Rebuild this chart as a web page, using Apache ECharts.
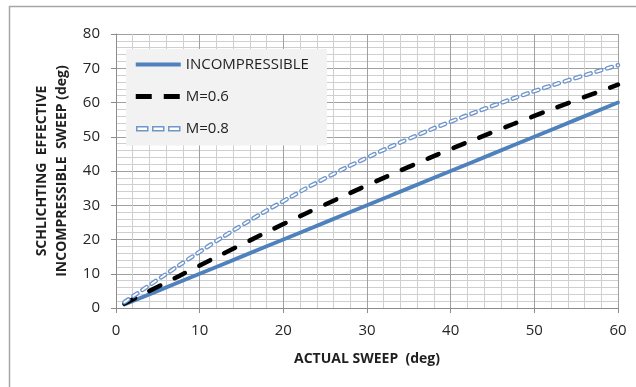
<!DOCTYPE html>
<html>
<head>
<meta charset="utf-8">
<script src="https://cdn.jsdelivr.net/npm/echarts@6/dist/echarts.min.js"></script>
<style>
  html, body { margin: 0; padding: 0; background: #ffffff; }
  #chart { width: 636px; height: 387px; }
</style>
</head>
<body>
<div id="chart"></div>
<script>
// Actual sweep angle (deg)
const actualSweep = [1, 5, 10, 15, 20, 25, 30, 35, 40, 45, 50, 55, 60];
// Schlichting effective incompressible sweep (deg)
const incompressible = [1, 5, 10, 15, 20, 25, 30, 35, 40, 45, 50, 55, 60];
const mach06 = [1.3, 6.2, 12.4, 18.5, 24.5, 30.2, 35.8, 41.2, 46.4, 51.3, 56.1, 60.7, 65.2];
const mach08 = [1.7, 8.3, 16.4, 24.1, 31.2, 37.9, 43.9, 49.4, 54.4, 59.0, 63.3, 67.2, 70.9];

const seriesNames = ['INCOMPRESSIBLE', 'M=0.6', 'M=0.8'];
const xTicks = { min: 0, max: 60, interval: 10 };
const yTicks = { min: 0, max: 80, interval: 10 };

const pairs = (ys) => actualSweep.map((x, i) => [x, ys[i]]);

const FONT = 'Open Sans';
const BLUE = '#4f81bd';
const LIGHT_BLUE = '#6f96cc';

const chart = echarts.init(document.getElementById('chart'), null, { renderer: 'canvas' });

// legend samples drawn as paths inside a 45x14 box (the two leading moves fix the box)
const solidIcon = 'path://M0,0 M45,14 M0,5 h45 v4 h-45 Z';
const dashIcon = 'path://M0,0 M45,14 M0,4.5 h16 v5 h-16 Z M28,4.5 h16 v5 h-16 Z';
const hollowIcon = 'path://M0,0 M45,14 M1,5 h11 v4 h-11 Z M17,5 h11 v4 h-11 Z M33,5 h11 v4 h-11 Z';

chart.setOption({
  animation: false,
  backgroundColor: '#ffffff',
  textStyle: { fontFamily: FONT },
  graphic: [{
    type: 'rect',
    shape: { x: 9.5, y: 6.5, width: 700, height: 500 },
    style: { fill: 'none', stroke: '#a6a6a6', lineWidth: 1.5 },
    silent: true
  }],
  grid: { left: 116, right: 18, top: 34, bottom: 79 },
  legend: {
    orient: 'vertical',
    left: 126,
    top: 49,
    backgroundColor: '#f2f2f2',
    padding: [8, 18, 9, 9],
    itemGap: 17,
    itemWidth: 45,
    itemHeight: 14,
    textStyle: { fontFamily: FONT, fontSize: 15, color: '#1f1f1f' },
    data: [
      { name: seriesNames[0], icon: solidIcon, itemStyle: { color: BLUE, borderWidth: 0 } },
      { name: seriesNames[1], icon: dashIcon, itemStyle: { color: '#000000', borderWidth: 0 } },
      {
        name: seriesNames[2],
        icon: hollowIcon,
        itemStyle: { color: '#ffffff', borderColor: LIGHT_BLUE, borderWidth: 1.5 }
      }
    ]
  },
  xAxis: {
    type: 'value',
    min: xTicks.min, max: xTicks.max, interval: xTicks.interval,
    name: 'ACTUAL SWEEP  (deg)',
    nameLocation: 'middle',
    nameGap: 44,
    nameTextStyle: { fontFamily: FONT, fontWeight: 'bold', fontSize: 14, color: '#1f1f1f' },
    axisLine: { show: true, onZero: false, lineStyle: { color: '#8c8c8c', width: 1 } },
    axisTick: { show: true, length: 5, lineStyle: { color: '#8c8c8c' } },
    axisLabel: { fontFamily: FONT, fontSize: 15, color: '#262626', margin: 15 },
    splitLine: { show: true, lineStyle: { color: '#a0a0a0', width: 1 } },
    minorTick: { show: false, splitNumber: 5 },
    minorSplitLine: { show: true, lineStyle: { color: '#cfcfcf', width: 1 } }
  },
  yAxis: {
    type: 'value',
    min: yTicks.min, max: yTicks.max, interval: yTicks.interval,
    name: 'SCHLICHTING  EFFECTIVE\nINCOMPRESSIBLE  SWEEP (deg)',
    nameLocation: 'middle',
    nameGap: 41,
    nameTextStyle: { fontFamily: FONT, fontWeight: 'bold', fontSize: 14, color: '#1f1f1f', lineHeight: 20 },
    axisLine: { show: true, lineStyle: { color: '#8c8c8c', width: 1 } },
    axisTick: { show: true, length: 5, lineStyle: { color: '#8c8c8c' } },
    axisLabel: { fontFamily: FONT, fontSize: 15, color: '#262626', margin: 16 },
    splitLine: { show: true, lineStyle: { color: '#a0a0a0', width: 1 } },
    minorTick: { show: false, splitNumber: 5 },
    minorSplitLine: { show: true, lineStyle: { color: '#cfcfcf', width: 1 } }
  },
  series: [
    {
      name: seriesNames[0],
      type: 'line',
      smooth: true,
      symbol: 'none',
      data: pairs(incompressible),
      lineStyle: { color: BLUE, width: 3.8, cap: 'round' },
      itemStyle: { color: BLUE },
      z: 3
    },
    {
      name: seriesNames[1],
      type: 'line',
      smooth: true,
      symbol: 'none',
      data: pairs(mach06),
      lineStyle: { color: '#000000', width: 4.5, type: [12, 16], cap: 'round' },
      itemStyle: { color: '#000000' },
      z: 4
    },
    {
      name: seriesNames[2],
      type: 'line',
      smooth: true,
      symbol: 'none',
      data: pairs(mach08),
      lineStyle: { color: LIGHT_BLUE, width: 4.5, type: [5, 6], cap: 'round' },
      itemStyle: { color: LIGHT_BLUE },
      z: 5
    },
    {
      // white core that turns the M=0.8 dashes into hollow capsules
      name: seriesNames[2],
      type: 'line',
      smooth: true,
      symbol: 'none',
      data: pairs(mach08),
      lineStyle: { color: '#ffffff', width: 1.8, type: [5, 6], cap: 'round' },
      itemStyle: { color: '#ffffff' },
      z: 6
    }
  ]
});
</script>
</body>
</html>
